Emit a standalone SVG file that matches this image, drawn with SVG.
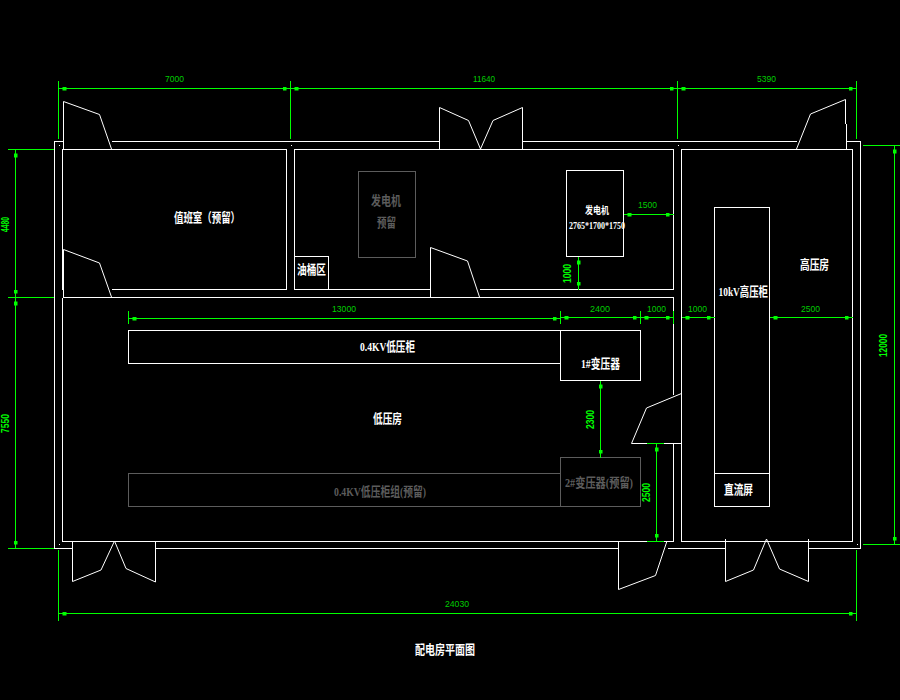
<svg xmlns="http://www.w3.org/2000/svg" width="900" height="700" viewBox="0 0 900 700">
<style>
.w{fill:none;stroke:#fff;stroke-width:1;shape-rendering:crispEdges}
.d{fill:none;stroke:#fff;stroke-width:1}
.g{fill:none;stroke:#5c5c5c;stroke-width:1;shape-rendering:crispEdges}
.dim{fill:none;stroke:#0f0;stroke-width:1;shape-rendering:crispEdges}
.dl{marker-start:url(#ds);marker-end:url(#de)}
.dt{font-family:"Liberation Sans",Arial,sans-serif;font-size:9px;fill:#0c0}
.dr{font-family:"Liberation Sans",Arial,sans-serif;font-size:10px;font-weight:bold;fill:#0f0}
.t{font-family:"Liberation Serif","Noto Sans CJK SC",serif;font-size:13px;font-weight:bold;fill:#fff}
.tg{font-family:"Liberation Serif","Noto Sans CJK SC",serif;font-size:13px;font-weight:bold;fill:#5c5c5c}
</style>
<defs>
<marker id="ds" markerUnits="userSpaceOnUse" markerWidth="8" markerHeight="4" viewBox="0 -2 8 4" refX="0" refY="0" orient="auto"><rect x="4" y="-2" width="4" height="4" fill="#0f0"/></marker>
<marker id="de" markerUnits="userSpaceOnUse" markerWidth="8" markerHeight="4" viewBox="-8 -2 8 4" refX="0" refY="0" orient="auto"><rect x="-8" y="-2" width="4" height="4" fill="#0f0"/></marker>
</defs>
<rect width="900" height="700" fill="#000"/>

<g id="outer-wall">
<path class="w" d="M63.5 141.5H54.5V548.5H72.5M111.5 141.5H439.5M522.5 141.5H796.5M846.5 141.5H860.5V548.5H808.5M725.5 548.5H667.5M618.5 548.5H155.5"/>
<path class="w" d="M58.5 145.5h1M290.5 145.5h1M677.5 145.5h1M58.5 544.5h1M856.5 544.5h1"/>
</g>

<g id="room-duty">
<path class="w" d="M62.5 289.5V149.5H286.5V289.5H111.5"/>
<text class="t" x="174" y="222" textLength="66" lengthAdjust="spacingAndGlyphs">值班室（预留）</text>
</g>
<g id="room-generator">
<path class="w" d="M430.5 289.5H294.5V149.5H673.5V289.5H479.5"/>
</g>
<g id="oil-area">
<rect class="w" x="294.5" y="256.5" width="34" height="33"/>
<text class="t" x="297" y="274" textLength="29" lengthAdjust="spacingAndGlyphs">油桶区</text>
</g>
<g id="generator-reserved">
<rect class="g" x="358.5" y="171.5" width="57" height="86"/>
<text class="tg" x="371" y="205" textLength="30" lengthAdjust="spacingAndGlyphs">发电机</text>
<text class="tg" x="377" y="227" textLength="19" lengthAdjust="spacingAndGlyphs">预留</text>
</g>
<g id="generator">
<rect class="w" x="566.5" y="170.5" width="57" height="86"/>
<text class="t" style="font-size:10px" x="585" y="214" textLength="24" lengthAdjust="spacingAndGlyphs">发电机</text>
<text class="t" style="font-size:10px" x="569" y="229" textLength="56" lengthAdjust="spacingAndGlyphs">2765*1700*1750</text>
</g>
<g id="room-lv">
<path class="w" d="M62.5 297.5H673.5V395M673.5 443.5V541.5H62.5V297.5"/>
<text class="t" x="373" y="423" textLength="29" lengthAdjust="spacingAndGlyphs">低压房</text>
</g>
<g id="lv-cabinet">
<rect class="w" x="128.5" y="330.5" width="432" height="33"/>
<text class="t" x="360" y="351" textLength="55" lengthAdjust="spacingAndGlyphs">0.4KV低压柜</text>
</g>
<g id="lv-cabinet-reserved">
<rect class="g" x="128.5" y="473.5" width="432" height="33"/>
<text class="tg" x="334" y="496" textLength="92" lengthAdjust="spacingAndGlyphs">0.4KV低压柜组(预留)</text>
</g>
<g id="transformer-1">
<rect class="w" x="560.5" y="330.5" width="80" height="50"/>
<text class="t" x="581" y="368" textLength="39" lengthAdjust="spacingAndGlyphs">1#变压器</text>
</g>
<g id="transformer-2">
<rect class="g" x="560.5" y="457.5" width="80" height="49"/>
<text class="tg" x="565" y="487" textLength="68" lengthAdjust="spacingAndGlyphs">2#变压器(预留)</text>
</g>
<g id="room-hv">
<rect class="w" x="681.5" y="149.5" width="171" height="391.5"/>
<text class="t" x="800" y="269" textLength="29" lengthAdjust="spacingAndGlyphs">高压房</text>
</g>
<g id="hv-cabinet">
<rect class="w" x="714.5" y="207.5" width="55" height="266"/>
<text class="t" x="718.5" y="296" textLength="49.500" lengthAdjust="spacingAndGlyphs">10kV高压柜</text>
</g>
<g id="dc-panel">
<rect class="w" x="714.5" y="473.5" width="55" height="33"/>
<text class="t" x="724" y="494" textLength="29" lengthAdjust="spacingAndGlyphs">直流屏</text>
</g>

<g id="doors">
<path class="d" d="M63.500 149V101.500L99.500 114.500L111.500 149"/>
<path class="d" d="M439.500 149V107.500L468.500 120.500L480.500 149L493 120.500L522.500 107.500V149"/>
<path class="d" d="M796.500 149L810.500 114L845.500 99.500V124M846.500 124V149"/>
<path class="d" d="M63.500 297V249.500L99.500 263L111.500 297"/>
<path class="d" d="M430.500 297V247.500L467.500 261L479.500 297"/>
<path class="d" d="M681.500 393.500L646.500 408L631.500 443.500H681.500"/>
<path class="d" d="M72.500 541V581.500L101 570L114.500 541L126 568.500L155.500 582V541"/>
<path class="d" d="M618.500 541V589.500L655.500 575.500L667 541"/>
<path class="d" d="M725.500 539V581.500L753.500 570L766.500 539L779.500 569L808.500 581.500V539"/>
</g>

<g id="connectors">
<path class="dim" d="M58.500 81V139M290.500 81V139M677.500 81V139M856.500 81V139"/>
<path class="dim dl" d="M58.500 88.500H290.500"/>
<path class="dim dl" d="M290.500 88.500H677.500"/>
<path class="dim dl" d="M677.500 88.500H856.500"/>
<path class="dim" d="M8 149.500H54M8 297.500H54M8 548.500H54"/>
<path class="dim dl" d="M15.500 149.500V297.500"/>
<path class="dim dl" d="M15.500 297.500V548.500"/>
<path class="dim" d="M863 145.500H900M863 544.500H900"/>
<path class="dim dl" d="M894.500 145.500V544.500"/>
<path class="dim" d="M58.500 550V621M856.500 550V621"/>
<path class="dim dl" d="M58.500 613.500H856.500"/>
<path class="dim" d="M128.500 311V324M560.500 311V324M640.500 311V324M673.500 311V324"/>
<path class="dim dl" d="M128.500 318.500H560.500"/>
<path class="dim dl" d="M560.500 317.500H640.500"/>
<path class="dim dl" d="M640.500 317.500H673.500"/>
<path class="dim dl" d="M681.500 317.500H714.500"/>
<path class="dim dl" d="M769.500 317.500H852.500"/>
<path class="dim dl" d="M623.500 214.500H673.500"/>
<path class="dim dl" d="M578.500 256.500V289.500"/>
<path class="dim dl" d="M600.500 380.500V457.500"/>
<path class="dim" d="M647 443.500H664M647 541.500H664"/>
<path class="dim dl" d="M656.500 443.500V541.500"/>
<text class="dt" x="165" y="81.500" textLength="19" lengthAdjust="spacingAndGlyphs">7000</text>
<text class="dt" x="473" y="81.500" textLength="22" lengthAdjust="spacingAndGlyphs">11640</text>
<text class="dt" x="757" y="81.500" textLength="19" lengthAdjust="spacingAndGlyphs">5390</text>
<text class="dt" x="332" y="311.500" textLength="24" lengthAdjust="spacingAndGlyphs">13000</text>
<text class="dt" x="590" y="311.500" textLength="20" lengthAdjust="spacingAndGlyphs">2400</text>
<text class="dt" x="647" y="311.500" textLength="19" lengthAdjust="spacingAndGlyphs">1000</text>
<text class="dt" x="688" y="311.500" textLength="19" lengthAdjust="spacingAndGlyphs">1000</text>
<text class="dt" x="801" y="311.500" textLength="19" lengthAdjust="spacingAndGlyphs">2500</text>
<text class="dt" x="638" y="207.500" textLength="19" lengthAdjust="spacingAndGlyphs">1500</text>
<text class="dt" x="445" y="606.500" textLength="24" lengthAdjust="spacingAndGlyphs">24030</text>
<text class="dr" transform="translate(571 283) rotate(-90)" textLength="19" lengthAdjust="spacingAndGlyphs">1000</text>
<text class="dr" transform="translate(593.500 429) rotate(-90)" textLength="19" lengthAdjust="spacingAndGlyphs">2300</text>
<text class="dr" transform="translate(650 502) rotate(-90)" textLength="19" lengthAdjust="spacingAndGlyphs">2500</text>
<text class="dr" transform="translate(9 232) rotate(-90)" textLength="15" lengthAdjust="spacingAndGlyphs">4480</text>
<text class="dr" transform="translate(9 433) rotate(-90)" textLength="19" lengthAdjust="spacingAndGlyphs">7550</text>
<text class="dr" transform="translate(887 357) rotate(-90)" textLength="23" lengthAdjust="spacingAndGlyphs">12000</text>
</g>

<g id="title">
<text class="t" x="415" y="654" textLength="60" lengthAdjust="spacingAndGlyphs">配电房平面图</text>
</g>
</svg>
